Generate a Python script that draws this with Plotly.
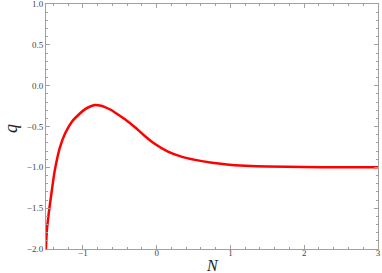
import plotly.graph_objects as go

N_vals = [-1.502, -1.488, -1.457, -1.42, -1.384, -1.353, -1.308, -1.24, -1.149, -1.037, -0.973,
          -0.90, -0.837, -0.77, -0.701, -0.63, -0.566, -0.43, -0.294, -0.181, -0.027, 0.153, 0.335,
          0.52, 0.75, 0.95, 1.2, 1.5, 2.0, 2.5, 3.0]
q_vals = [-2.02, -1.766, -1.521, -1.277, -1.053, -0.909, -0.747, -0.583, -0.441, -0.338, -0.290,
          -0.255, -0.238, -0.243, -0.262, -0.292, -0.328, -0.412, -0.51, -0.60, -0.712, -0.808, -0.869,
          -0.909, -0.945, -0.965, -0.980, -0.990, -0.996, -0.999, -1.0]

x_ticks = [-1, 0, 1, 2, 3]
x_labels = ["\u22121", "0", "1", "2", "3"]
y_ticks = [-2.0, -1.5, -1.0, -0.5, 0.0, 0.5, 1.0]
y_labels = ["\u22122.0", "\u22121.5", "\u22121.0", "\u22120.5", "0.0", "0.5", "1.0"]

fig = go.Figure()
fig.add_trace(go.Scatter(x=N_vals, y=q_vals, mode="lines",
                         line=dict(color="#ff0000", width=2.5, shape="spline", smoothing=0.7),
                         showlegend=False))

axis_common = dict(showgrid=False, zeroline=False, showline=True, linecolor="#a0a0a0", linewidth=1,
                   mirror="allticks", ticks="inside", ticklen=4, tickcolor="#a0a0a0", automargin=False,
                   ticklabeloverflow="allow",
                   tickfont=dict(family="Liberation Serif", size=9, color="#444444"))

fig.update_xaxes(range=[-1.5, 3], tickvals=x_ticks, ticktext=x_labels, ticklabelstandoff=-5,
                 minor=dict(dtick=0.2, tick0=0, ticks="inside", ticklen=2, tickcolor="#a0a0a0"),
                 **axis_common)
fig.update_yaxes(range=[-2, 1], tickvals=y_ticks, ticktext=y_labels,
                 minor=dict(dtick=0.1, tick0=0, ticks="inside", ticklen=2, tickcolor="#a0a0a0"),
                 **axis_common)

fig.add_annotation(text="<i>N</i>", xref="paper", yref="paper", x=0.503, y=-0.069,
                   xanchor="center", yanchor="middle",
                   showarrow=False, font=dict(family="Liberation Serif", size=16, color="#222222"))
fig.add_annotation(text="<i>q</i>", xref="paper", yref="paper", x=-0.105, y=0.49, textangle=-90,
                   xanchor="center", yanchor="middle",
                   showarrow=False, font=dict(family="Liberation Serif", size=18, color="#222222"))

fig.update_layout(width=382, height=273, margin=dict(l=46, r=4, t=4, b=24),
                  plot_bgcolor="white", paper_bgcolor="white")

fig.write_html("out.html", config={"displayModeBar": False},
               post_script="document.body.style.margin='0';")
